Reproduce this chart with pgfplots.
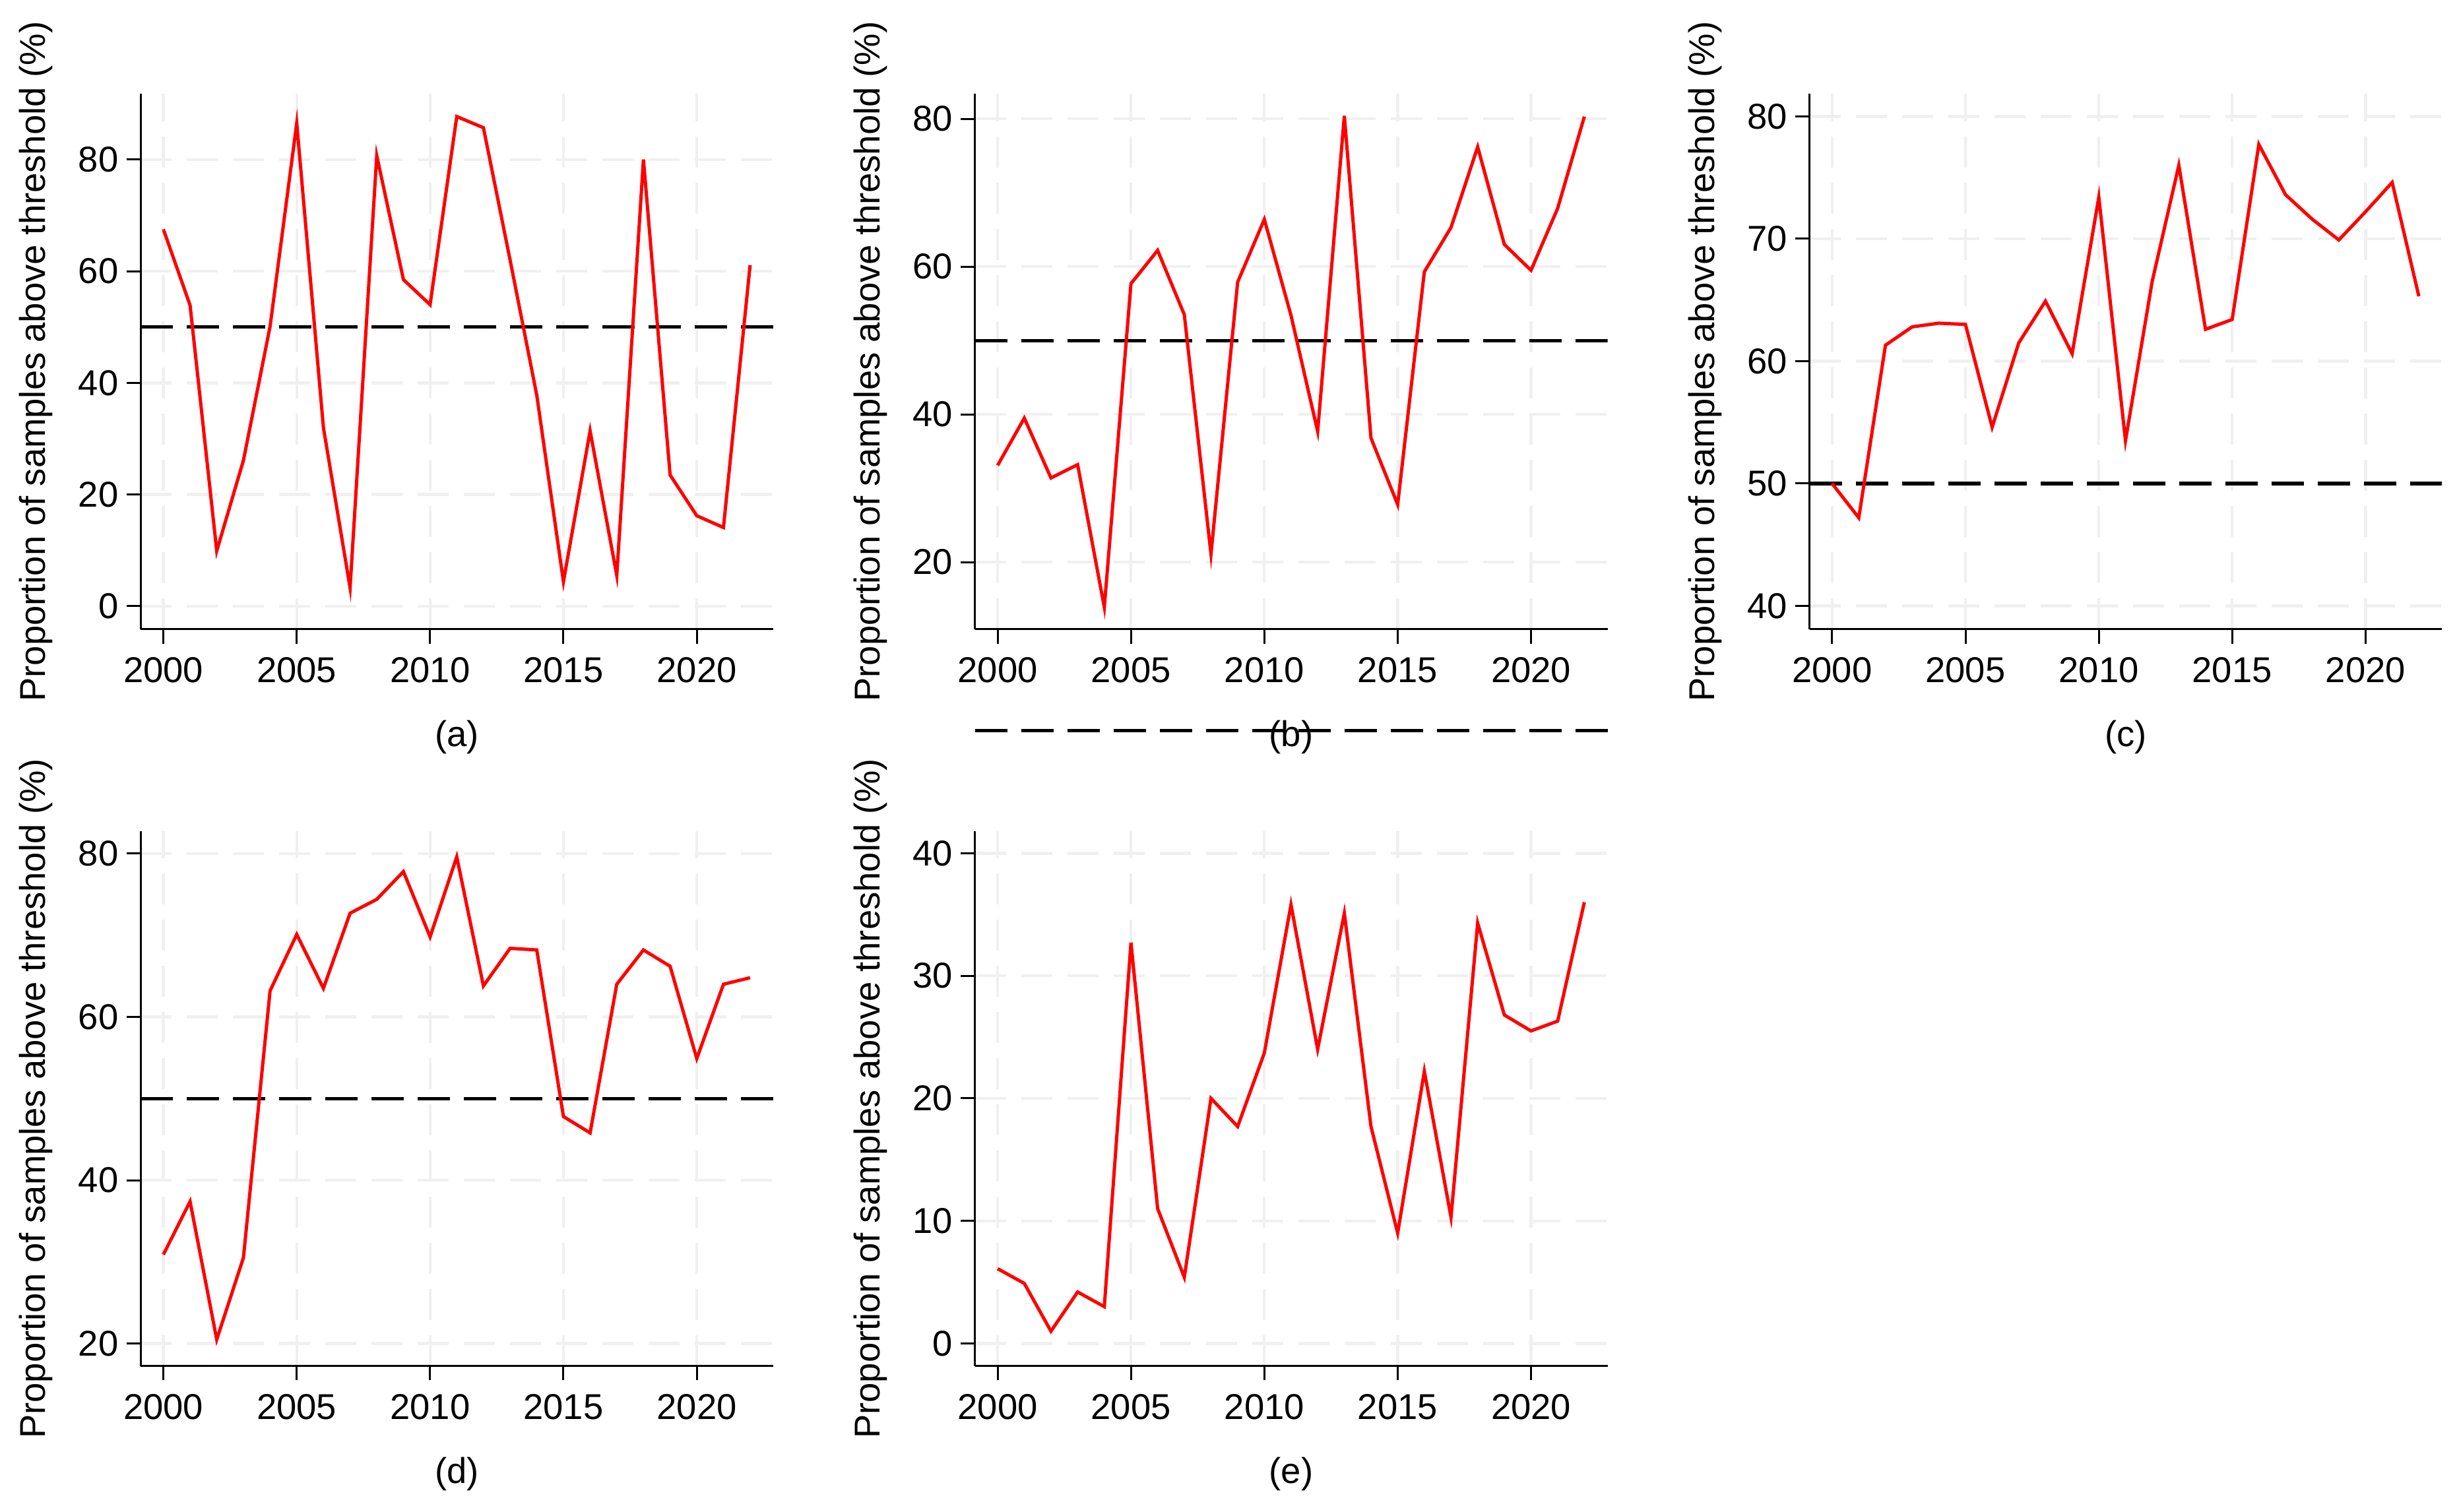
\documentclass[border=0pt]{standalone}
\usepackage{fontspec}
\setmainfont{Liberation Sans}
\usepackage{pgfplots}
\pgfplotsset{compat=1.18}

\definecolor{gridgray}{RGB}{240,240,240}

% 1 px of the target = 0.25pt
\pgfplotsset{
  panel/.style={
    scale only axis,
    width=239.7pt,
    anchor=south west,
    font=\fontsize{13.6}{16}\selectfont,
    axis x line*=bottom, axis y line*=left,
    axis line style={-, line width=0.75pt, black},
    xmin=1999.15, xmax=2022.87,
    xtick={2000,2005,...,2020},
    tick align=outside,
    major tick length=5.4pt,
    every tick/.style={black, line width=0.75pt},
    grid=major,
    major grid style={gridgray, line width=1.1pt, dash pattern=on 11.75pt off 5.75pt},
    /pgf/number format/1000 sep={},
    /pgf/number format/assume math mode=true,
    xticklabel style={anchor=base, inner sep=0pt, yshift=-14.85pt},
    yticklabel style={anchor=east, inner sep=0pt, xshift=-2.9pt},
    ylabel={Proportion of samples above threshold (\%)},
    ylabel style={at={([xshift=-36.1pt]axis description cs:0,0.5)}, anchor=base, inner sep=0pt},
    xlabel style={at={([yshift=-44.5pt]axis description cs:0.5,0)}, anchor=base, inner sep=0pt},
  },
  thr/.style={black, line width=1.3pt, dash pattern=on 12.25pt off 5.25pt, forget plot},
  series/.style={red, line width=1.25pt, forget plot},
}

\begin{document}
\begin{tikzpicture}
\useasboundingbox (0,0) rectangle (931pt,572.75pt);

% (a)
\begin{axis}[panel, at={(53.325pt,334.25pt)}, height=203pt,
  ymin=-4.14, ymax=91.8, ytick={0,20,...,80}, xlabel={(a)}]
\addplot[thr] coordinates {(1999.15,50) (2022.87,50)};
\addplot[series] coordinates {
  (2000,67.5) (2001,53.9) (2002,9.9) (2003,26.1) (2004,50.1) (2005,86.5)
  (2006,32.0) (2007,3.3) (2008,80.7) (2009,58.5) (2010,54.0) (2011,87.7)
  (2012,85.7) (2013,62.0) (2014,37.8) (2015,4.4) (2016,31.4) (2017,5.5)
  (2018,80.0) (2019,23.5) (2020,16.2) (2021,14.1) (2022,61.1)
};
\end{axis}

% (b)
\begin{axis}[panel, at={(369.425pt,334.25pt)}, height=203pt,
  ymin=10.91, ymax=83.41, ytick={20,40,...,80}, xlabel={(b)}]
\addplot[thr] coordinates {(1999.15,50) (2022.87,50)};
\addplot[series] coordinates {
  (2000,33.1) (2001,39.5) (2002,31.4) (2003,33.2) (2004,13.9) (2005,57.7)
  (2006,62.2) (2007,53.5) (2008,21.1) (2009,57.9) (2010,66.4) (2011,53.4)
  (2012,37.7) (2013,80.4) (2014,36.8) (2015,27.8) (2016,59.3) (2017,65.3)
  (2018,76.2) (2019,63.0) (2020,59.5) (2021,67.9) (2022,80.3)
};
\end{axis}

% (c)
\begin{axis}[panel, at={(685.625pt,334.25pt)}, height=203pt,
  ymin=38.09, ymax=81.85, ytick={40,50,...,80}, xlabel={(c)}]
\addplot[thr] coordinates {(1999.15,50) (2022.87,50)};
\addplot[series] coordinates {
  (2000,50.0) (2001,47.2) (2002,61.3) (2003,62.8) (2004,63.1) (2005,63.0)
  (2006,54.6) (2007,61.5) (2008,64.9) (2009,60.6) (2010,73.4) (2011,53.5)
  (2012,66.5) (2013,76.0) (2014,62.6) (2015,63.4) (2016,77.7) (2017,73.6)
  (2018,71.6) (2019,69.9) (2020,72.2) (2021,74.6) (2022,65.3)
};
\end{axis}

% (d)
\begin{axis}[panel, at={(53.325pt,55.075pt)}, height=202.7pt,
  ymin=17.25, ymax=82.75, ytick={20,40,...,80}, xlabel={(d)}]
\addplot[thr] coordinates {(1999.15,50) (2022.87,50)};
\addplot[series] coordinates {
  (2000,30.9) (2001,37.4) (2002,20.5) (2003,30.5) (2004,63.2) (2005,70.1)
  (2006,63.5) (2007,72.7) (2008,74.4) (2009,77.8) (2010,69.8) (2011,79.6)
  (2012,63.8) (2013,68.4) (2014,68.2) (2015,47.8) (2016,45.8) (2017,64.0)
  (2018,68.2) (2019,66.2) (2020,54.9) (2021,64.0) (2022,64.8)
};
\end{axis}

% (e) -- its threshold line lies above the plot area
\begin{axis}[panel, at={(369.425pt,55.075pt)}, height=202.7pt,
  ymin=-1.84, ymax=41.8, ytick={0,10,...,40}, xlabel={(e)}, clip=false]
\addplot[thr] coordinates {(1999.15,50) (2022.87,50)};
\addplot[series] coordinates {
  (2000,6.1) (2001,4.9) (2002,1.0) (2003,4.2) (2004,3.0) (2005,32.7)
  (2006,11.0) (2007,5.4) (2008,20.0) (2009,17.7) (2010,23.7) (2011,35.8)
  (2012,24.0) (2013,35.1) (2014,17.7) (2015,9.0) (2016,22.2) (2017,10.3)
  (2018,34.3) (2019,26.8) (2020,25.5) (2021,26.3) (2022,36.0)
};
\end{axis}
\end{tikzpicture}
\end{document}
